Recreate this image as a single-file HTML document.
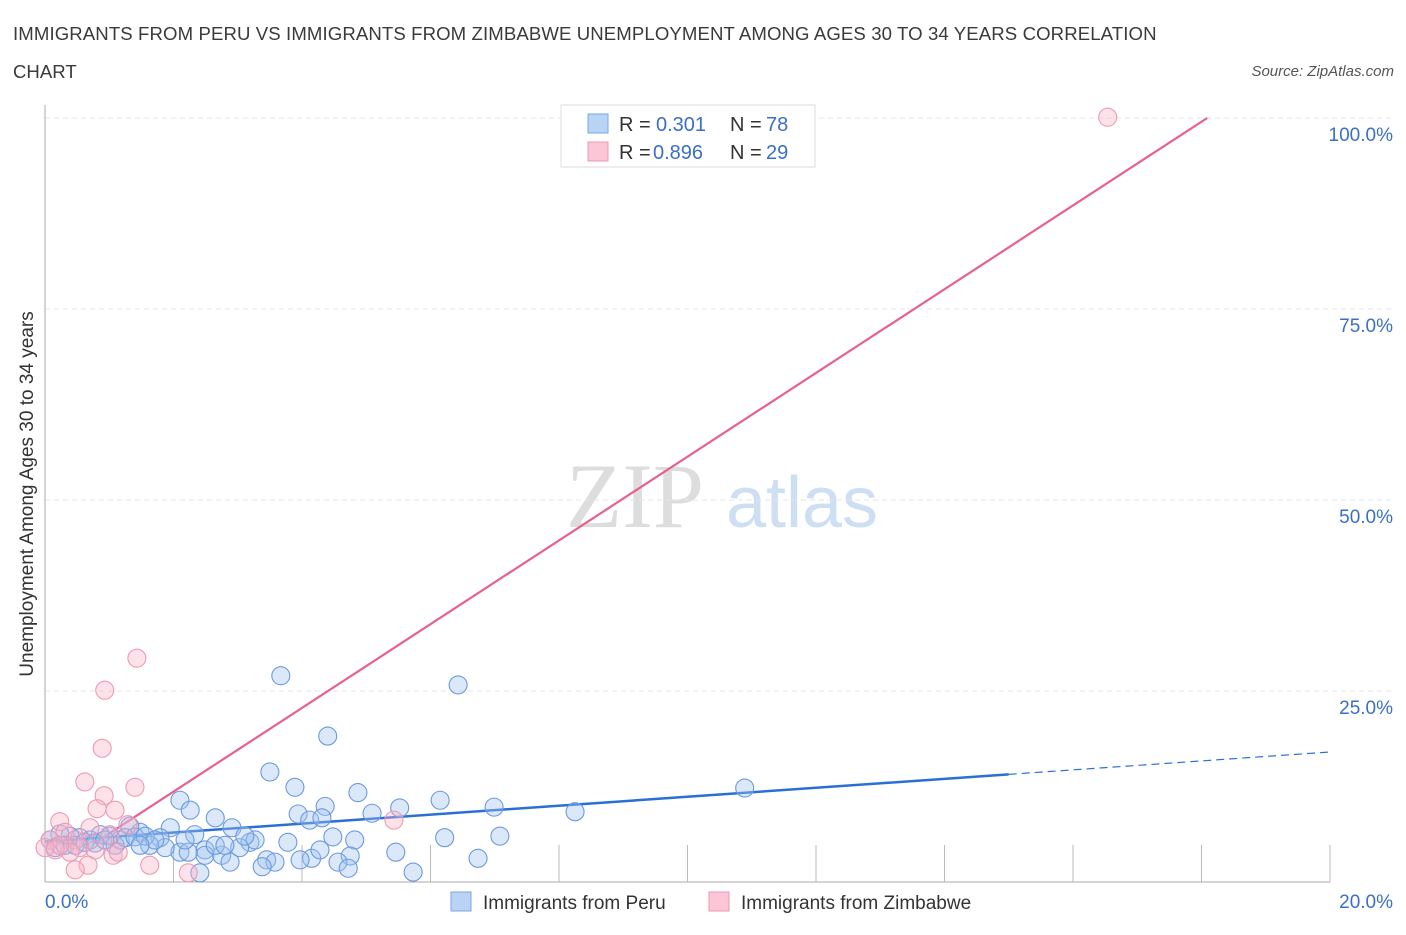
<!DOCTYPE html>
<html><head><meta charset="utf-8"><style>
body{margin:0;background:#fff;font-family:"Liberation Sans",sans-serif;}
</style></head><body>
<svg id="chart" width="1406" height="930" xmlns="http://www.w3.org/2000/svg" font-family="Liberation Sans, sans-serif">
<text x="13" y="40" font-size="18.6" letter-spacing="0.1" fill="#3a3a3a">IMMIGRANTS FROM PERU VS IMMIGRANTS FROM ZIMBABWE UNEMPLOYMENT AMONG AGES 30 TO 34 YEARS CORRELATION</text>
<text x="13" y="78" font-size="18.6" fill="#3a3a3a">CHART</text>
<text x="1394" y="76" font-size="15" fill="#555" font-style="italic" text-anchor="end">Source: ZipAtlas.com</text>
<g>
<text x="635" y="527" font-size="92" fill="#ddd" font-family="Liberation Serif, serif" text-anchor="middle">ZIP</text>
<text x="802" y="527" font-size="72" fill="#cfdff3" text-anchor="middle">atlas</text>
</g>
<g id="grid"></g><g id="axes"></g><g id="lines"></g><g id="points"></g>
<text transform="translate(33,494) rotate(-90)" font-size="19" fill="#333" text-anchor="middle">Unemployment Among Ages 30 to 34 years</text>
<g font-size="20">
<rect x="561" y="105" width="254" height="62" fill="#fff" stroke="#ddd"/>
<rect x="588" y="114" width="20" height="19" fill="#b9d3f5" stroke="#7aa6e6"/>
<rect x="588" y="142" width="20" height="19" fill="#fcc6d6" stroke="#eb98b2"/>
<text x="619" y="131" fill="#333">R =</text><text x="656" y="131" fill="#3a6fc8">0.301</text>
<text x="730" y="131" fill="#333">N =</text><text x="766" y="131" fill="#3a6fc8">78</text>
<text x="619" y="159" fill="#333">R =</text><text x="653" y="159" fill="#3a6fc8">0.896</text>
<text x="730" y="159" fill="#333">N =</text><text x="766" y="159" fill="#3a6fc8">29</text>
</g>
<g>
<rect x="451" y="892" width="20" height="19" fill="#b9d3f5" stroke="#7aa6e6"/>
<text x="483" y="909" font-size="19" fill="#333">Immigrants from Peru</text>
<rect x="709" y="892" width="20" height="19" fill="#fcc6d6" stroke="#eb98b2"/>
<text x="741" y="909" font-size="19" fill="#333">Immigrants from Zimbabwe</text>
</g>
</svg>
<script>
const yTicks=[25,50,75,100];
const yTickLabels=["25.0%","50.0%","75.0%","100.0%"];
const xTickLabels=["0.0%","20.0%"];
const peruX=[3.67,6.43,4.40,3.50,3.89,10.89,2.10,4.87,6.15,4.36,2.26,5.52,6.99,8.25,3.94,2.65,4.12,4.31,5.09,1.95,2.91,2.33,1.48,1.32,1.79,1.01,0.86,1.17,6.22,7.08,4.82,4.48,3.78,3.19,3.27,3.03,2.49,2.10,1.87,1.63,1.09,2.49,2.75,2.88,2.23,5.46,4.75,4.56,4.15,3.45,3.58,3.38,6.74,4.72,5.73,2.41,0.70,0.54,0.39,0.23,0.08,0.16,0.31,0.47,0.62,0.78,0.93,1.25,1.40,1.56,1.71,2.18,2.65,2.80,3.11,3.97,4.28,1.48];
const peruY=[27.0,25.8,19.1,14.4,12.4,12.3,10.7,11.7,10.7,9.9,9.4,9.7,9.8,9.2,8.9,8.4,8.1,8.4,9.0,7.1,7.1,6.2,6.5,7.3,5.8,6.0,6.2,5.5,5.8,6.0,5.5,5.9,5.2,5.2,5.5,4.5,4.2,3.9,4.5,4.8,4.8,3.5,3.5,2.6,3.9,3.9,3.4,2.6,3.1,2.9,2.6,2.0,3.1,1.8,1.3,1.2,5.5,5.8,6.0,6.3,5.5,4.5,4.8,4.8,5.2,5.1,5.5,5.8,5.9,6.0,5.5,5.5,4.8,4.8,6.0,2.9,4.2,4.8];
const zimX=[16.54,1.43,0.93,0.89,0.62,1.40,0.92,0.81,1.09,0.23,1.29,5.43,0.70,0.31,0.47,0.08,1.01,0.54,0.78,0.39,1.06,0.16,0.67,0.47,1.63,2.23,0.23,0.0,1.14];
const zimY=[100.1,29.3,25.1,17.5,13.1,12.4,11.3,9.6,9.4,7.9,7.5,8.1,7.1,6.5,5.5,5.5,6.2,4.5,4.2,3.9,3.5,4.2,2.2,1.6,2.2,1.2,4.8,4.5,3.9];
const peruTrend=[0.586,5.3];
const zimTrend=[5.48,0.87];
const NS="http://www.w3.org/2000/svg";
const X=v=>45+v/20*1285, Y=v=>882-v/100*764;
function mk(t,a,p){const e=document.createElementNS(NS,t);for(const k in a)e.setAttribute(k,a[k]);document.getElementById(p).appendChild(e);return e;}
yTicks.forEach((t,i)=>{
 const g=mk('line',{x1:45,x2:1392,y1:Y(t),y2:Y(t),stroke:'#e6e6e6','stroke-dasharray':'5,4'},'grid');
 
 
 const l=mk('text',{x:1393,y:Y(t)+23,'font-size':19,fill:'#3a6fc8','text-anchor':'end'},'grid');
 l.textContent=yTickLabels[i];
 
 
});
let a=mk('line',{x1:45,x2:45,y1:105,y2:882,stroke:'#aaa'},'axes');


a=mk('line',{x1:45,x2:1330,y1:882,y2:882,stroke:'#aaa'},'axes');


for(let i=1;i<=10;i++){const t=mk('line',{x1:X(i*2),x2:X(i*2),y1:845,y2:882,stroke:'#bbb'},'axes');
 
 }
[[0,'start',45],[20,'end',1393]].forEach((d,i)=>{const t=mk('text',{x:d[2],y:908,'font-size':19,fill:'#3a6fc8','text-anchor':d[1]},'axes');t.textContent=xTickLabels[i];
 
 });
function drawPts(xs,ys,fill,stroke,name){xs.forEach((x,i)=>{const c=mk('circle',{cx:X(x),cy:Y(ys[i]),r:9,fill:fill,stroke:stroke,'stroke-width':1.1},'points');
 
 });}
drawPts(peruX,peruY,'rgba(160,195,240,0.38)','#6b9ae0','peru-point');
drawPts(zimX,zimY,'rgba(250,180,200,0.38)','#ec9ab3','zimbabwe-point');
let L=mk('line',{x1:X(0),y1:Y(peruTrend[1]),x2:X(15),y2:Y(peruTrend[1]+15*peruTrend[0]),stroke:'#2a6fd6','stroke-width':2.5},'lines');


L=mk('line',{x1:X(15),y1:Y(peruTrend[1]+15*peruTrend[0]),x2:X(20),y2:Y(peruTrend[1]+20*peruTrend[0]),stroke:'#2a6fd6','stroke-width':1.2,'stroke-dasharray':'8,5'},'lines');


const zx1=(100-zimTrend[1])/zimTrend[0];
L=mk('line',{x1:X(0.75),y1:Y(zimTrend[1]+0.75*zimTrend[0]),x2:X(zx1),y2:Y(100),stroke:'#e8608f','stroke-width':2.2},'lines');


</script>
</body></html>
